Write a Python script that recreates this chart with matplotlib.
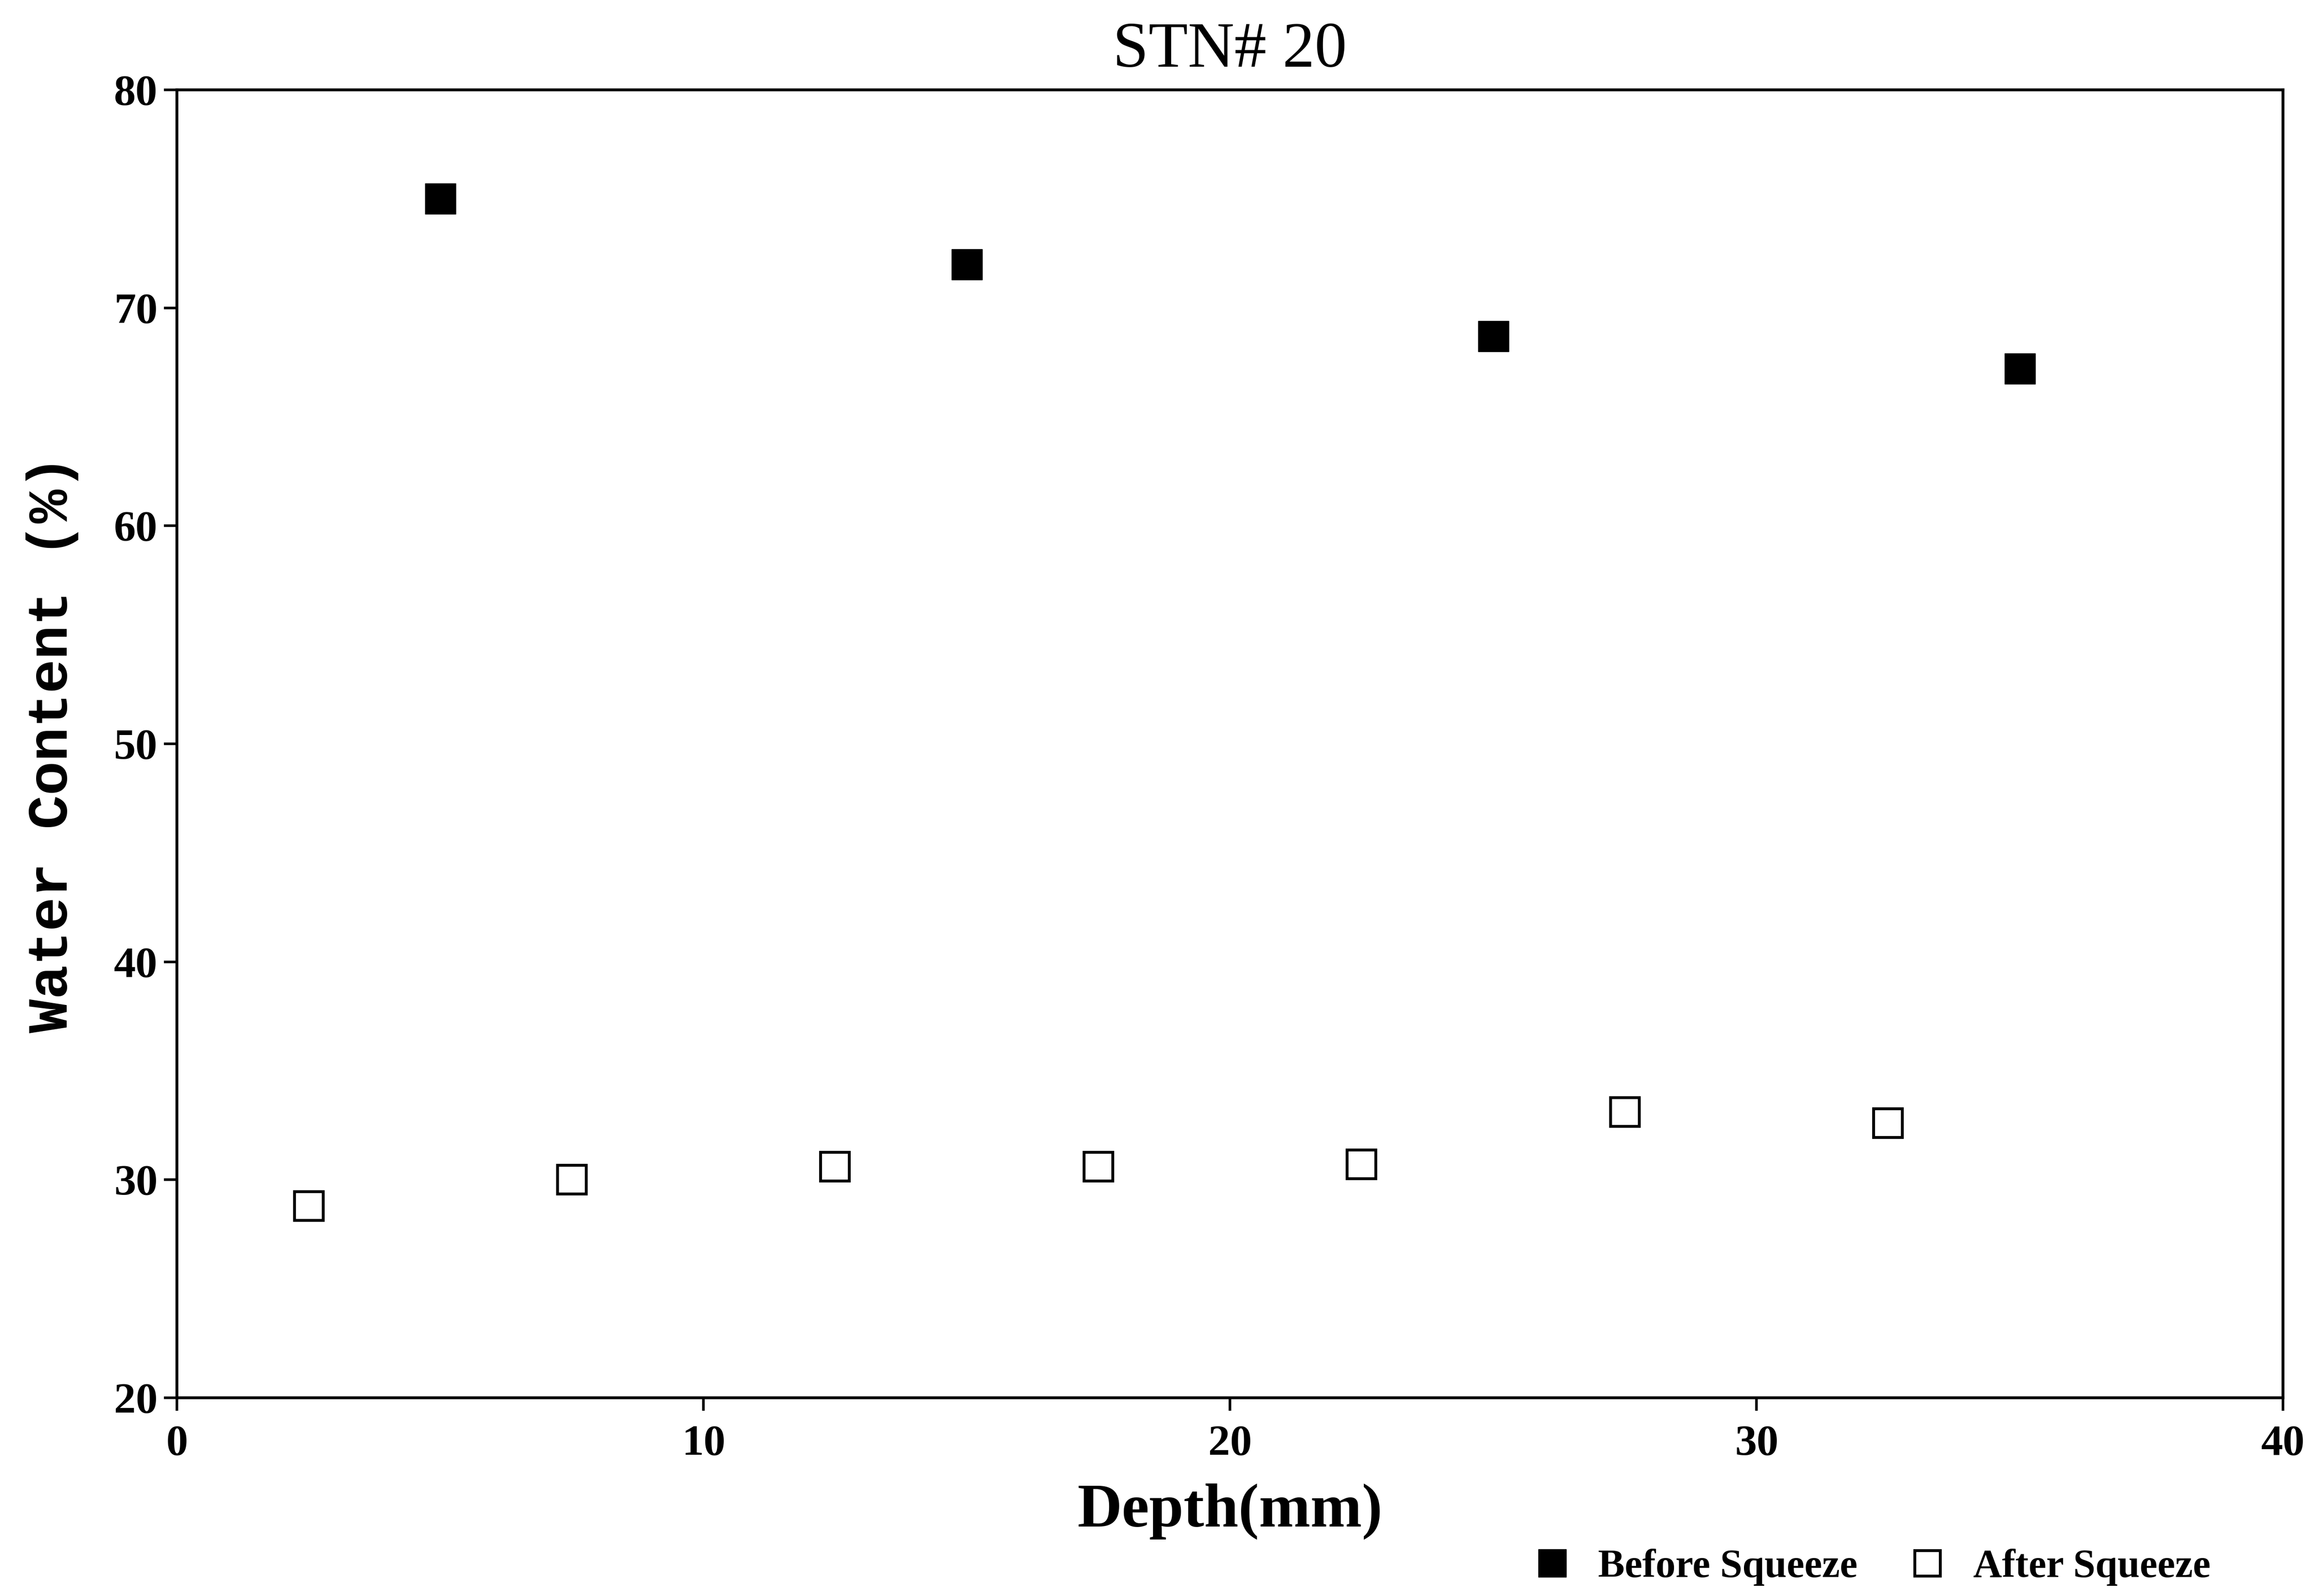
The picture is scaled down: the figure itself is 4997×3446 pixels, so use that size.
import matplotlib
matplotlib.use("Agg")
import matplotlib.pyplot as plt

# data
before_depth = [5, 15, 25, 35]
before_water = [75.0, 72.0, 68.7, 67.2]
after_depth = [2.5, 7.5, 12.5, 17.5, 22.5, 27.5, 32.5]
after_water = [28.8, 30.0, 30.6, 30.6, 30.7, 33.1, 32.6]

xticks = [0, 10, 20, 30, 40]
yticks = [20, 30, 40, 50, 60, 70, 80]

fig = plt.figure(figsize=(49.97, 34.46), dpi=100)
ax = fig.add_axes([0.0765, 0.1242, 0.9101, 0.8195])

ax.plot(before_depth, before_water, linestyle="none", marker="s",
        markersize=48, color="black", label="Before Squeeze")
ax.plot(after_depth, after_water, linestyle="none", marker="s",
        markersize=44, markerfacecolor="white", markeredgecolor="black",
        markeredgewidth=4.5, label="After Squeeze")

ax.set_xlim(0, 40)
ax.set_ylim(20, 80)
ax.set_xticks(xticks)
ax.set_yticks(yticks)

for s in ax.spines.values():
    s.set_linewidth(4.5)

ax.tick_params(direction="out", length=20, width=4)
ax.tick_params(axis="x", pad=22)
ax.tick_params(axis="y", pad=10)
for lab in ax.get_xticklabels() + ax.get_yticklabels():
    lab.set_fontfamily("Liberation Serif")
    lab.set_fontweight("bold")
    lab.set_fontsize(68)

ax.set_title("STN# 20", fontfamily="Liberation Serif", fontsize=100, pad=36)
ax.set_xlabel("Depth(mm)", fontfamily="Liberation Serif", fontweight="bold",
              fontsize=96, labelpad=30)
ax.set_ylabel("Water Content (%)", fontfamily="Liberation Mono",
              fontweight="bold", fontsize=88, labelpad=55)

fig.legend(loc="center", bbox_to_anchor=(0.81, 0.018), ncol=2, frameon=False,
           markerscale=0.9, handlelength=0.7, handletextpad=0.8,
           columnspacing=1.4,
           prop={"family": "Liberation Serif", "weight": "bold", "size": 62})

fig.savefig("out.png", dpi=100, facecolor="white")
